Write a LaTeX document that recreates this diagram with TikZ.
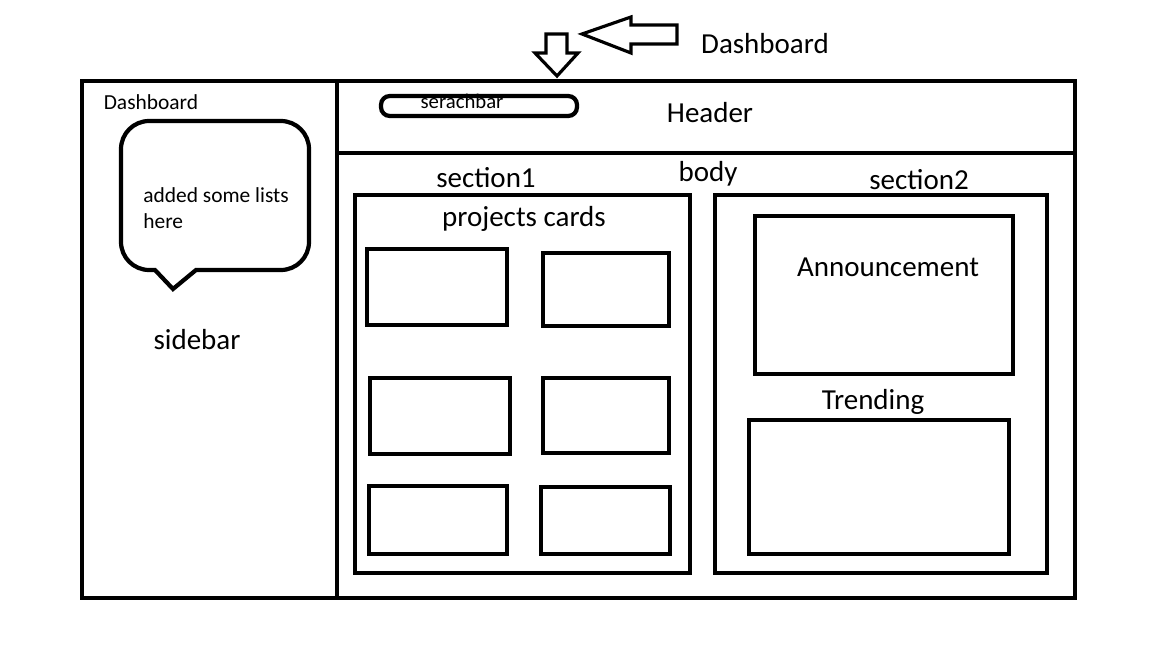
\documentclass[tikz,border=0pt]{standalone}
\usepackage{fontspec}
\setmainfont{Carlito}
\usetikzlibrary{positioning}
\tikzset{
    wire/.style={draw, line width=2.4pt},
    card/.style={draw, line width=2.2pt},
    bigtext/.style={font=\fontsize{16.5}{19}\selectfont, inner sep=0pt},
    smalltext/.style={font=\fontsize{12.2}{15}\selectfont, inner sep=0pt},
    blockarrow/.style={draw, line width=1.8pt, line join=miter},
}

\begin{document}
\begin{tikzpicture}[x=0.02cm, y=-0.02cm]
    \useasboundingbox (0,0) rectangle (1152,648);

    % Title and pointing arrows
    \node[bigtext] (title) at (765,44) {Dashboard};
    \draw[blockarrow] (582,34) -- (631,17) -- (631,25) -- (677,25) -- (677,44) -- (631,44) -- (631,53) -- cycle;
    \draw[blockarrow] (546,34) -- (567,34) -- (567,53) -- (578,53) -- (557,76) -- (535,53) -- (546,53) -- cycle;

    % Outer frame, sidebar and header
    \draw[wire] (82,81) rectangle (1075,598);
    \draw[wire] (337,81) -- (337,598);
    \draw[wire] (337,153) -- (1075,153);

    % Sidebar
    \node[smalltext] (sidetitle) at (151,102) {Dashboard};
    \draw[wire] (173,289) -- (155,270) [rounded corners=16pt] -- (121,270) -- (121,121) -- (309,121) -- (309,270) [sharp corners] -- (196,270) -- cycle;
    \node[smalltext, align=left, anchor=north west] (lists) at (143,187) {added some lists\\here};
    \node[bigtext] (sidebar) at (197,340) {sidebar};

    % Header
    \node[smalltext, font=\fontsize{11.8}{14}\selectfont] (search) at (462,101) {serachbar};
    \draw[wire, rounded corners=5pt] (381,96) rectangle (577,116);
    \node[bigtext] (header) at (710,113) {Header};

    % Body
    \node[bigtext] (body) at (708,174) {body};
    \node[bigtext] (sec1) at (486,178) {section1};
    \node[bigtext] (sec2) at (919,180) {section2};

    % Section 1: project cards
    \draw[wire] (355,195) rectangle (690,573);
    \node[bigtext] (projects) at (524,219) {projects cards};
    \draw[card] (367,249) rectangle (507,325);
    \draw[card] (543,253) rectangle (669,326);
    \draw[card] (370,378) rectangle (510,454);
    \draw[card] (543,378) rectangle (669,453);
    \draw[card] (369,486) rectangle (507,554);
    \draw[card] (541,487) rectangle (670,554);

    % Section 2
    \draw[wire] (715,195) rectangle (1047,573);
    \draw[card] (755,216) rectangle (1013,374);
    \node[bigtext] (announce) at (888,267) {Announcement};
    \node[bigtext] (trending) at (873,402) {Trending};
    \draw[card] (749,420) rectangle (1009,554);
\end{tikzpicture}
\end{document}
